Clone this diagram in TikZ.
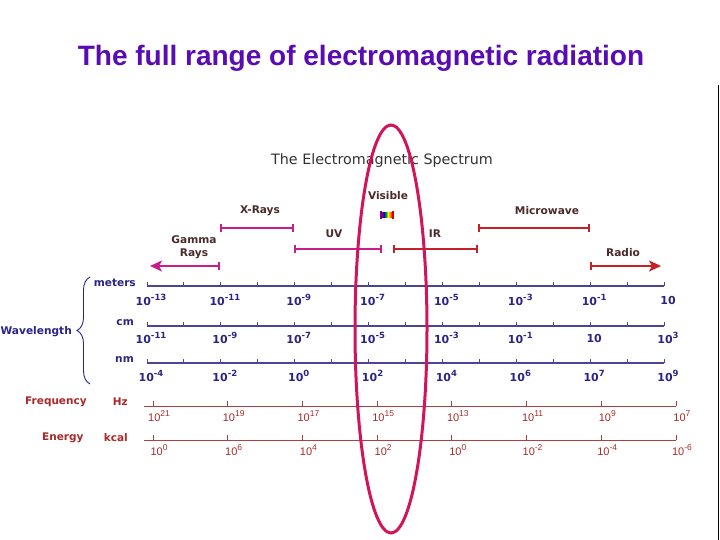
\documentclass[tikz,border=0pt]{standalone}
\usepackage{fontspec}
\setmainfont{Liberation Sans}
\newfontfamily\dejavu{DejaVu Sans}
\usetikzlibrary{arrows.meta, calc, decorations.pathreplacing}
\definecolor{emtitle}{HTML}{5A0CB4}
\definecolor{emnavy}{HTML}{2A2486}
\definecolor{emred}{HTML}{A82A2A}
\definecolor{emmag}{HTML}{C81E8C}
\definecolor{emband}{HTML}{C42228}
\definecolor{emtext}{HTML}{4A2A2A}
\definecolor{emring}{HTML}{D2145A}
\pgfdeclarehorizontalshading{rainbowbar}{100bp}{color(0bp)=(violet); color(25bp)=(violet);
  color(35bp)=(blue); color(45bp)=(green!70!black); color(55bp)=(yellow); color(65bp)=(orange);
  color(75bp)=(red); color(100bp)=(red)}
\tikzset{emtip/.tip={Stealth[length=12pt, width=11pt, inset=3pt]},
         embar/.tip={Bar[width=8pt]}}
\newcommand\epow[1]{\raisebox{0.42em}{\fontsize{8.5}{10}\selectfont#1}}

\begin{document}
\begin{tikzpicture}[x=1pt, y=-1pt, every node/.style={inner sep=0pt},
      band/.style={line width=1.6pt},
      bandlbl/.style={font=\dejavu\bfseries\fontsize{10.6}{12.5}\selectfont, text=emtext, align=center},
      wl/.style={font=\dejavu\bfseries\fontsize{10.6}{12}\selectfont, text=emnavy},
      wnum/.style={font=\dejavu\bfseries\fontsize{11}{13}\selectfont, text=emnavy},
      fl/.style={font=\dejavu\bfseries\fontsize{10.5}{12}\selectfont, text=emred},
      fnum/.style={font=\fontsize{11}{12}\selectfont, text=emred}]

      \useasboundingbox (0,0) rectangle (720,540);
      \fill[white] (0,0) rectangle (720,540);

      \node[font=\bfseries\fontsize{28}{30}\selectfont, text=emtitle] (title) at (361,58) {The full range of electromagnetic radiation};
      \node[font=\dejavu\fontsize{14.3}{16}\selectfont, text=black!80] (spec) at (382,161) {The Electromagnetic Spectrum};

      % bands
      \coordinate (g0) at (150,266); \coordinate (g1) at (220,266);
      \coordinate (x0) at (220,228); \coordinate (x1) at (294,228);
      \coordinate (u0) at (294,249); \coordinate (u1) at (382,249);
      \coordinate (v0) at (381,215); \coordinate (v1) at (393,215);
      \coordinate (i0) at (393,249); \coordinate (i1) at (478,249);
      \coordinate (w0) at (478,228); \coordinate (w1) at (590,228);
      \coordinate (r0) at (590,266); \coordinate (r1) at (661,266);

      \draw[band, emmag, emtip-embar] (g0)--(g1);
      \draw[band, emmag, embar-embar] (x0)--(x1);
      \draw[band, emmag, embar-embar] (u0)--(u1);
      \shade[shading=rainbowbar] ($(v0)+(1,-2.5)$) rectangle ($(v1)+(-1,2.5)$);
      \draw[line width=1.4pt, violet] ($(v0)+(0,-4)$)--($(v0)+(0,4)$);
      \draw[line width=1.4pt, red!85!black] ($(v1)+(0,-4)$)--($(v1)+(0,4)$);
      \draw[band, emband, embar-embar] (i0)--(i1);
      \draw[band, emband, embar-embar] (w0)--(w1);
      \draw[band, emband, embar-emtip] (r0)--(r1);

      \node[bandlbl] (gamma) at (194,247) {Gamma\\Rays};
      \node[bandlbl] (xray) at (260,211) {X-Rays};
      \node[bandlbl] (uv) at (334,234) {UV};
      \node[bandlbl] (vis) at (388,196) {Visible};
      \node[bandlbl] (ir) at (435,234) {IR};
      \node[bandlbl] (micro) at (547,211) {Microwave};
      \node[bandlbl] (radio) at (623,253) {Radio};

      % wavelength scales
      \node[wl, anchor=east] (wave) at (72,332) {Wavelength};
      \node[wl, anchor=east] (meters) at (136,283) {meters};
      \node[wl, anchor=east] (cm) at (134,323) {cm};
      \node[wl, anchor=east] (nm) at (134,360) {nm};
      \draw[emnavy, line width=0.9pt, decorate, decoration={brace, amplitude=13pt}] (90,384)--(90,277);

      \foreach \y/\s in {286/m, 326/c, 363/n} {
        \coordinate (\s L) at (147,\y); \coordinate (\s R) at (664,\y);
        \draw[emnavy!85, line width=1.1pt] (\s L)--(\s R);
        \foreach \k in {0,...,14}
          \draw[emnavy!85, line width=1pt] ($(\s L)+(36.93*\k,0)$)--++(0,-4);
      }
      \foreach \e [count=\k from 0] in {-13,-11,-9,-7,-5,-3,-1,{}}
        \node[wnum] (m\k) at (151+73.86*\k,300) {10\epow{\e}};
      \foreach \e [count=\k from 0] in {-11,-9,-7,-5,-3,-1,{},3}
        \node[wnum] (c\k) at (151+73.86*\k,338) {10\epow{\e}};
      \foreach \e [count=\k from 0] in {-4,-2,0,2,4,6,7,9}
        \node[wnum] (n\k) at (151+73.86*\k,376) {10\epow{\e}};

      % frequency and energy scales
      \node[fl, anchor=west] (freq) at (25,402) {Frequency};
      \node[fl, anchor=east] (hz) at (128,402) {Hz};
      \node[fl, anchor=west] (energy) at (42,438) {Energy};
      \node[fl, anchor=east] (kcal) at (128,438) {kcal};

      \foreach \y/\s in {406/f, 440/e} {
        \coordinate (\s L) at (144,\y); \coordinate (\s R) at (676,\y);
        \draw[emred!90, line width=1pt] (\s L)--(\s R);
        \foreach \k in {0,...,7}
          \draw[emred!90, line width=0.9pt] ($(\s L)+(9+74.71*\k,0)$)--++(0,-5);
      }
      \foreach \e [count=\k from 0] in {21,19,17,15,13,11,9,7}
        \node[fnum] (f\k) at (159+74.71*\k,416) {10\epow{\e}};
      \foreach \e [count=\k from 0] in {0,6,4,2,0,-2,-4,-6}
        \node[fnum] (e\k) at (159+74.71*\k,450) {10\epow{\e}};

      % highlight and frame
      \draw[emring, line width=3pt] (391,329) ellipse [x radius=36pt, y radius=204pt];
      \draw[black, line width=1.3pt] (718.5,85)--(718.5,540);
    \end{tikzpicture}
\end{document}
